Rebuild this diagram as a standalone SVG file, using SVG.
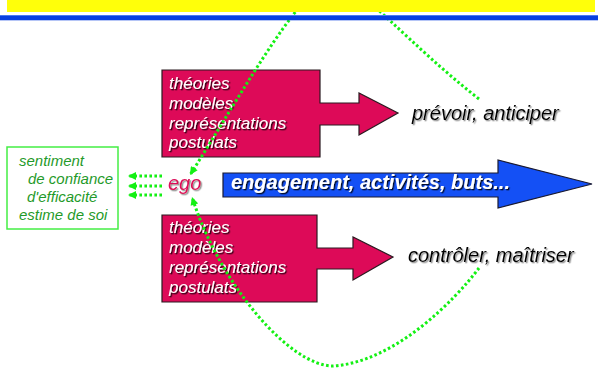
<svg xmlns="http://www.w3.org/2000/svg" width="598" height="381" viewBox="0 0 598 381">
<style>
.box{fill:#dd0a58;stroke:#2a1a20;stroke-width:1.2}
.wt{font-family:"Liberation Sans",Arial,sans-serif;font-style:italic;font-size:17px;fill:#fff;filter:url(#shd)}
.bt{font-family:"Liberation Sans",Arial,sans-serif;font-style:italic;font-size:20px;fill:#000;filter:url(#shg)}
.gt{font-family:"Liberation Sans",Arial,sans-serif;font-style:italic;font-size:15px;fill:#1f9a2a}
.dot{fill:none;stroke:#14f014;stroke-width:3;stroke-dasharray:2.6 2.4}
</style>
<defs>
<filter id="shd" x="-10%" y="-30%" width="130%" height="160%"><feDropShadow dx="1.3" dy="1.3" stdDeviation="0.4" flood-color="#000" flood-opacity="0.85"/></filter>
<filter id="shg" x="-10%" y="-30%" width="130%" height="160%"><feDropShadow dx="1.3" dy="1.3" stdDeviation="0.5" flood-color="#777" flood-opacity="0.8"/></filter>
<marker id="ga" viewBox="0 0 10 10" refX="10" refY="5" markerWidth="10" markerHeight="8" orient="auto" markerUnits="userSpaceOnUse"><path d="M0,0 L10,5 L0,10 z" fill="#14f014"/></marker>
</defs>
<rect width="598" height="381" fill="#fff"/>

<g id="green-box">
<rect x="7" y="147" width="111" height="82" fill="#fff" stroke="#44ee44" stroke-width="1.5"/>
<text class="gt" x="19" y="166">sentiment</text>
<text class="gt" x="28" y="184">de confiance</text>
<text class="gt" x="27" y="202">d'efficacité</text>
<text class="gt" x="19" y="220">estime de soi</text>
</g>

<g id="upper-box">
<path class="box" d="M162,70 H320 V103 H359 V93 L398,113 L359,135 V125 H320 V157 H162 Z"/>
<text class="wt" x="169" y="89">théories</text>
<text class="wt" x="169" y="109">modèles</text>
<text class="wt" x="169" y="129">représentations</text>
<text class="wt" x="169" y="148">postulats</text>
</g>

<g id="lower-box">
<path class="box" d="M162,215 H317 V248 H353 V237 L393,257 L353,280 V269 H317 V302 H162 Z"/>
<text class="wt" x="169" y="233">théories</text>
<text class="wt" x="169" y="253">modèles</text>
<text class="wt" x="169" y="273">représentations</text>
<text class="wt" x="169" y="293">postulats</text>
</g>

<g id="blue-arrow">
<path d="M223,173 H498 V160 L592,184 L498,208 V197 H223 Z" fill="#1450f5" stroke="#1a1a30" stroke-width="1.2"/>
<text x="231" y="189" font-family="'Liberation Sans',Arial,sans-serif" font-style="italic" font-weight="bold" font-size="20" fill="#fff" filter="url(#shd)">engagement, activités, buts...</text>
</g>

<g id="ego">
<text x="168" y="190" font-family="'Liberation Sans',Arial,sans-serif" font-style="italic" font-size="20" fill="#dd0a58" filter="url(#shg)">ego</text>
</g>

<g id="prevoir"><text class="bt" x="412" y="120">prévoir, anticiper</text></g>
<g id="controler"><text class="bt" x="408" y="262">contrôler, maîtriser</text></g>

<g id="connectors">
<path class="dot" d="M479,99 C410,45 360,-15 335,-20 C305,-20 250,80 190,175" marker-end="url(#ga)"/>
<path class="dot" d="M479,268 C455,300 395,362 333,366 C290,366 220,285 192,197" marker-end="url(#ga)"/>
<line class="dot" x1="162" y1="176" x2="128" y2="176" marker-end="url(#ga)"/>
<line class="dot" x1="162" y1="186" x2="128" y2="186" marker-end="url(#ga)"/>
<line class="dot" x1="162" y1="195" x2="128" y2="195" marker-end="url(#ga)"/>
</g>

<g id="header">
<rect x="7" y="0" width="588" height="12" fill="#ffff0a"/>
<rect x="0" y="15" width="598" height="5.3" fill="#0a40e0"/>
<rect x="0" y="15" width="598" height="1" fill="#4a7af0"/>
</g>
</svg>
